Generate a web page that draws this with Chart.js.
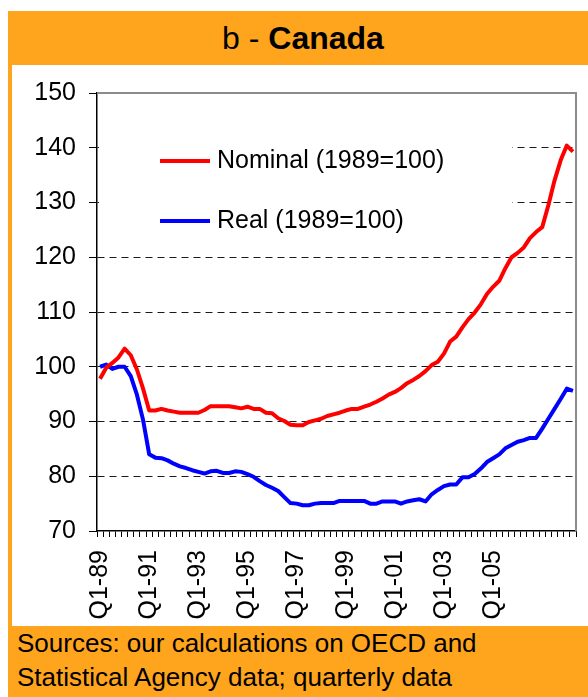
<!DOCTYPE html>
<html>
<head>
<meta charset="utf-8">
<script src="https://cdn.jsdelivr.net/npm/chart.js@4.4.0/dist/chart.umd.min.js"></script>
<style>
  body {
    margin: 0;
    width: 588px;
    height: 697px;
    position: relative;
    overflow: hidden;
    background: #fff;
    font-family: "Liberation Sans", Arial, sans-serif;
    color: #000;
  }
  #frame {
    position: absolute;
    left: 8px;
    top: 11px;
    width: 600px;
    height: 700px;
    background: #ffa51d;
  }
  #title {
    position: absolute;
    left: 8px;
    top: 11px;
    width: 590px;
    height: 54px;
    line-height: 54px;
    text-align: center;
    font-size: 32px;
  }
  #plot {
    position: absolute;
    left: 12px;
    top: 65px;
    width: 576px;
    height: 561px;
    background: #fff;
  }
  #footer {
    position: absolute;
    left: 17px;
    top: 626px;
    font-size: 26px;
    line-height: 34px;
    white-space: nowrap;
  }
</style>
</head>
<body>
<div id="frame"></div>
<div id="title">b - <b>Canada</b></div>
<div id="plot"><canvas id="chart" width="576" height="561"></canvas></div>
<div id="footer">Sources: our calculations on OECD and<br>Statistical Agency data; quarterly data</div>

<script>
// Data
const quarters = [
  "Q1-89", "Q2-89", "Q3-89", "Q4-89", "Q1-90", "Q2-90", "Q3-90", "Q4-90",
  "Q1-91", "Q2-91", "Q3-91", "Q4-91", "Q1-92", "Q2-92", "Q3-92", "Q4-92",
  "Q1-93", "Q2-93", "Q3-93", "Q4-93", "Q1-94", "Q2-94", "Q3-94", "Q4-94",
  "Q1-95", "Q2-95", "Q3-95", "Q4-95", "Q1-96", "Q2-96", "Q3-96", "Q4-96",
  "Q1-97", "Q2-97", "Q3-97", "Q4-97", "Q1-98", "Q2-98", "Q3-98", "Q4-98",
  "Q1-99", "Q2-99", "Q3-99", "Q4-99", "Q1-00", "Q2-00", "Q3-00", "Q4-00",
  "Q1-01", "Q2-01", "Q3-01", "Q4-01", "Q1-02", "Q2-02", "Q3-02", "Q4-02",
  "Q1-03", "Q2-03", "Q3-03", "Q4-03", "Q1-04", "Q2-04", "Q3-04", "Q4-04",
  "Q1-05", "Q2-05", "Q3-05", "Q4-05", "Q1-06", "Q2-06", "Q3-06", "Q4-06",
  "Q1-07", "Q2-07", "Q3-07", "Q4-07", "Q1-08", "Q2-08",
];

const shownLabels = [
  "Q1-89", "Q1-91", "Q1-93", "Q1-95", "Q1-97", "Q1-99", "Q1-01", "Q1-03", "Q1-05",
];

const nominal = [
  97.8, 99.8, 100.7, 101.7, 103.3, 102.1, 99.5, 96.0,
  92.0, 92.0, 92.3, 92.0, 91.8, 91.6, 91.6, 91.6,
  91.6, 92.1, 92.8, 92.8, 92.8, 92.8, 92.6, 92.4,
  92.7, 92.3, 92.3, 91.6, 91.5, 90.6, 90.1, 89.4,
  89.3, 89.3, 89.9, 90.2, 90.5, 91.0, 91.3, 91.6,
  92.0, 92.3, 92.3, 92.7, 93.1, 93.6, 94.2, 94.9,
  95.4, 96.1, 97.0, 97.6, 98.3, 99.2, 100.3, 100.9,
  102.4, 104.6, 105.5, 107.2, 108.7, 109.9, 111.4, 113.3,
  114.6, 115.7, 118.0, 120.0, 120.8, 121.8, 123.5, 124.6,
  125.5, 129.5, 134.0, 137.7, 140.4, 139.3,
];

const real = [
  100.0, 100.4, 99.6, 100.0, 100.0, 98.3, 94.9, 90.3,
  84.0, 83.4, 83.3, 82.9, 82.3, 81.8, 81.5, 81.1,
  80.8, 80.5, 80.9, 81.0, 80.6, 80.6, 80.9, 80.8,
  80.4, 79.9, 79.1, 78.4, 77.9, 77.3, 76.2, 75.1,
  75.0, 74.7, 74.7, 75.0, 75.1, 75.1, 75.1, 75.5,
  75.5, 75.5, 75.5, 75.5, 75.0, 75.0, 75.4, 75.4,
  75.4, 75.0, 75.4, 75.6, 75.8, 75.4, 76.7, 77.5,
  78.2, 78.5, 78.5, 79.8, 79.8, 80.4, 81.4, 82.6,
  83.3, 84.0, 85.1, 85.7, 86.3, 86.6, 87.0, 87.0,
  88.7, 90.5, 92.3, 94.1, 96.0, 95.6,
];

const seriesNames = ["Nominal (1989=100)", "Real (1989=100)"];
const seriesColors = ["#ff0000", "#0000ff"];

const FONT = '"Liberation Sans", Arial, sans-serif';

// White legend box over the grid, plus the grey top/right frame
const legendAndFrame = {
  id: "legendAndFrame",
  beforeDatasetsDraw(c) {
    const { ctx, chartArea: a } = c;
    ctx.save();
    ctx.fillStyle = "#fff";
    ctx.fillRect(a.left + 2, a.top + 12, 413, 140);

    const rows = [a.top + 68, a.top + 128];
    ctx.font = "25px " + FONT;
    ctx.textBaseline = "middle";
    ctx.lineWidth = 4;
    rows.forEach((y, i) => {
      ctx.strokeStyle = seriesColors[i];
      ctx.beginPath();
      ctx.moveTo(a.left + 63, y);
      ctx.lineTo(a.left + 113, y);
      ctx.stroke();
      ctx.fillStyle = "#000";
      ctx.fillText(seriesNames[i], a.left + 120, y);
    });
    ctx.restore();
  },
  afterDraw(c) {
    const { ctx, chartArea: a } = c;
    ctx.save();
    ctx.strokeStyle = "#8c8c8c";
    ctx.lineWidth = 2;
    ctx.beginPath();
    ctx.moveTo(a.left, a.top);
    ctx.lineTo(a.right, a.top);
    ctx.lineTo(a.right, a.bottom);
    ctx.stroke();
    ctx.restore();
  },
};

new Chart(document.getElementById("chart"), {
  type: "line",
  data: {
    labels: quarters,
    datasets: [
      {
        label: seriesNames[0],
        data: nominal,
        borderColor: seriesColors[0],
        borderWidth: 4,
        pointRadius: 0,
        tension: 0,
        borderJoinStyle: "round",
      },
      {
        label: seriesNames[1],
        data: real,
        borderColor: seriesColors[1],
        borderWidth: 4,
        pointRadius: 0,
        tension: 0,
        borderJoinStyle: "round",
      },
    ],
  },
  options: {
    responsive: false,
    animation: false,
    layout: { padding: { top: 28, right: 12, left: 0, bottom: 0 } },
    plugins: {
      legend: { display: false },
      tooltip: { enabled: false },
    },
    scales: {
      x: {
        offset: true,
        afterFit: (s) => {
          s.height = 95;
          s.paddingLeft = 0;
          s.paddingRight = 0;
        },
        grid: {
          offset: true,
          drawOnChartArea: false,
          drawTicks: true,
          tickLength: 6,
          tickColor: "#000",
          tickWidth: 1,
        },
        border: { color: "#000", width: 1.5 },
        ticks: {
          autoSkip: false,
          minRotation: 90,
          maxRotation: 90,
          padding: 13,
          color: "#000",
          font: { family: FONT, size: 25 },
          callback: (v, i) => (shownLabels.includes(quarters[i]) ? quarters[i] : ""),
        },
      },
      y: {
        min: 70,
        max: 150,
        afterFit: (s) => { s.width = 85; },
        grid: {
          color: (ctx) =>
            ctx.tick && (ctx.tick.value === 150 || ctx.tick.value === 70)
              ? "rgba(0,0,0,0)"
              : "#1a1a1a",
          lineWidth: 1,
          tickLength: 8,
          tickColor: "#000",
          tickWidth: 1,
          tickBorderDash: [],
        },
        border: { color: "#000", width: 1.5, dash: [7, 5] },
        ticks: {
          stepSize: 10,
          padding: 13,
          color: "#000",
          font: { family: FONT, size: 25 },
        },
      },
    },
  },
  plugins: [legendAndFrame],
});
</script>
</body>
</html>
